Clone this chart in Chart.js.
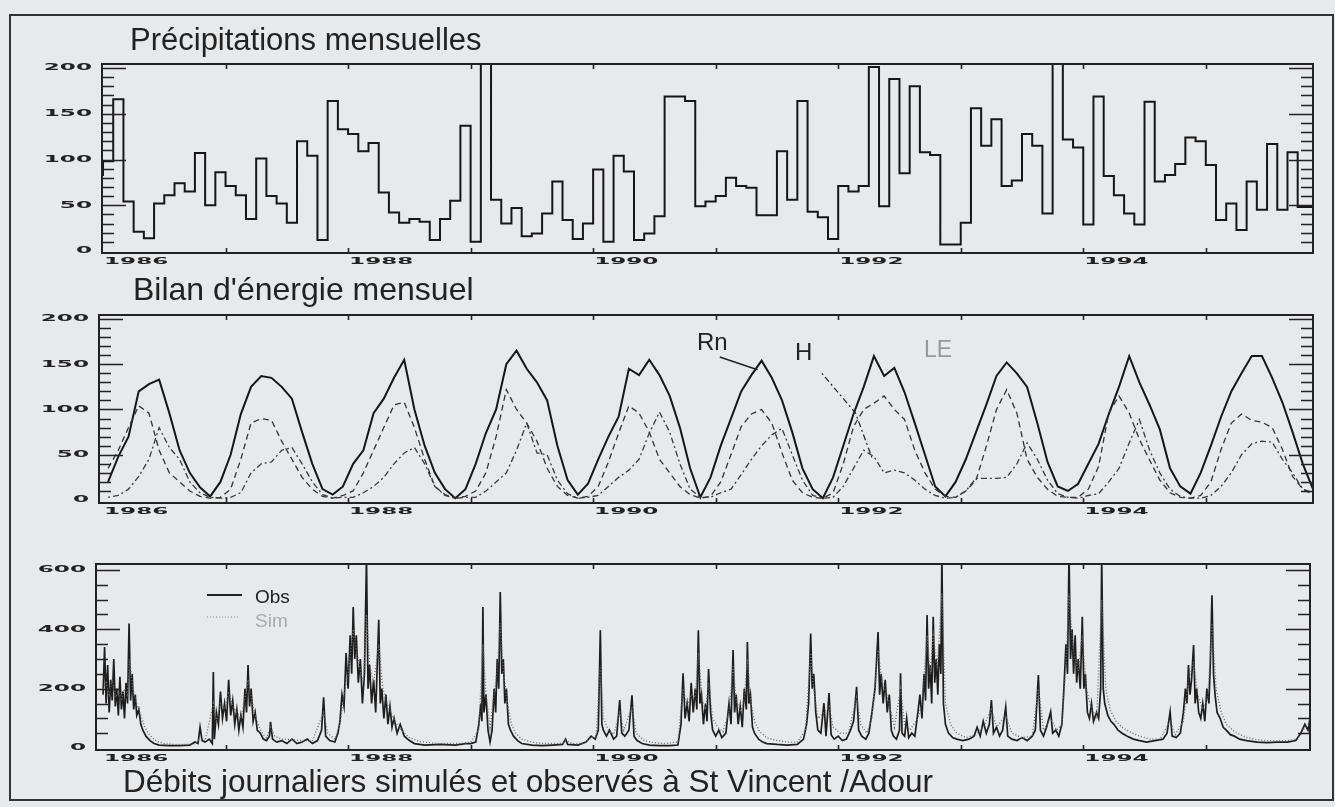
<!DOCTYPE html>
<html>
<head>
<meta charset="utf-8">
<script src="https://cdn.jsdelivr.net/npm/chart.js@4.4.1/dist/chart.umd.min.js"></script>
<style>
  body { margin: 0; background: #e8e9eb; }
  #page { position: relative; width: 1335px; height: 807px; overflow: hidden; font-family: "Liberation Sans", Arial, sans-serif; color: #222; }
  #frame { position: absolute; left: 9px; top: 14px; width: 1325px; height: 787px; border: 2px solid #333; box-sizing: border-box; }
  canvas { position: absolute; left: 0; top: 0; }
  .t { position: absolute; white-space: nowrap; line-height: 1; }
</style>
</head>
<body>
<div id="page">
  <div id="frame"></div>
  <canvas id="c1" width="1335" height="807"></canvas>
  <canvas id="c2" width="1335" height="807"></canvas>
  <canvas id="c3" width="1335" height="807"></canvas>
  <div class="t" style="left:130px;top:24px;font-size:31px">Précipitations mensuelles</div>
  <div class="t" style="left:133px;top:273px;font-size:32px">Bilan d'énergie mensuel</div>
  <div class="t" style="left:123px;top:766px;font-size:31.5px">Débits journaliers simulés et observés à St Vincent /Adour</div>
  <div class="t" style="left:697px;top:330px;font-size:24px">Rn</div>
  <div class="t" style="left:795px;top:340px;font-size:24px">H</div>
  <div class="t" style="left:924px;top:338px;font-size:23px;color:#999">LE</div>
  <div class="t" style="left:255px;top:587px;font-size:19px">Obs</div>
  <div class="t" style="left:255px;top:611px;font-size:19px;color:#aaa">Sim</div>
</div>
<script>
// months counted from January 1986
const years = ['1986', '1988', '1990', '1992', '1994'];
const yearTicks = [0, 24, 48, 72, 96];
const energyTicks = [0, 50, 100, 150, 200];
const flowTicks = [0, 200, 400, 600];

// monthly precipitation (mm)
const precip = [
  82, 98, 166, 54, 21, 14, 52, 61, 74, 65, 107, 50,
  86, 71, 61, 35, 101, 60, 52, 31, 120, 104, 12, 164,
  133, 128, 109, 118, 64, 42, 31, 35, 32, 12, 35, 55,
  137, 10, 260, 56, 30, 47, 16, 19, 41, 76, 34, 13,
  30, 89, 10, 104, 87, 12, 19, 38, 169, 169, 164, 49,
  54, 60, 80, 71, 69, 39, 39, 109, 56, 164, 43, 37,
  13, 71, 65, 71, 201, 49, 188, 85, 180, 108, 105, 7,
  7, 31, 156, 115, 144, 71, 77, 128, 115, 41, 215, 122,
  113, 29, 169, 82, 61, 41, 29, 163, 76, 83, 95, 124,
  120, 94, 34, 52, 23, 76, 45, 117, 45, 108, 48
];

// monthly energy balance (W/m2)
const rn = [
  20, 48, 70, 120, 128, 133, 96, 55, 30, 14, 4, 20,
  50, 95, 125, 137, 135, 125, 112, 75, 40, 12, 6, 15,
  40, 55, 96, 112, 135, 155, 100, 60, 30, 12, 2, 12,
  40, 74, 100, 150, 165, 145, 130, 110, 60, 22, 6, 18,
  45, 70, 92, 145, 138, 155, 138, 115, 80, 35, 3, 25,
  60, 90, 120, 138, 154, 135, 110, 75, 35, 12, 2, 25,
  60, 95, 125, 159, 137, 146, 119, 85, 50, 15, 4, 20,
  45, 75, 105, 137, 152, 140, 125, 85, 42, 15, 10, 18,
  40, 62, 95, 125, 159, 130, 105, 78, 35, 15, 7, 30,
  60, 92, 120, 140, 159, 159, 135, 108, 75, 40, 12
];
const le = [
  35, 55, 80, 104, 96, 55, 30, 20, 10, 4, 2, 3,
  12, 45, 85, 90, 88, 65, 45, 25, 12, 4, 2, 5,
  10, 30, 55, 80, 105, 108, 80, 45, 15, 6, 2, 4,
  10, 30, 70, 122, 100, 85, 65, 35, 15, 5, 2, 4,
  15, 42, 74, 104, 96, 75, 45, 30, 15, 6, 2, 4,
  20, 50, 81, 95, 100, 85, 52, 22, 8, 3, 2, 8,
  40, 81, 100, 107, 115, 100, 89, 55, 30, 12, 4, 3,
  10, 22, 59, 100, 122, 96, 45, 25, 12, 4, 3, 3,
  12, 37, 96, 115, 96, 67, 44, 22, 8, 3, 2, 5,
  20, 56, 85, 95, 88, 86, 80, 56, 26, 12, 6
];
const hs = [
  3, 5, 12, 26, 45, 80, 58, 45, 20, 8, 3, 2,
  3, 8, 30, 40, 42, 55, 58, 40, 20, 6, 2, 3,
  3, 8, 15, 25, 40, 52, 58, 40, 15, 5, 2, 3,
  3, 10, 20, 30, 55, 85, 52, 50, 22, 7, 2, 3,
  5, 15, 25, 33, 45, 74, 97, 75, 40, 12, 3, 3,
  8, 12, 28, 45, 60, 72, 79, 50, 22, 5, 2, 3,
  15, 35, 55, 48, 30, 33, 30, 22, 12, 5, 2, 3,
  10, 24, 24, 24, 25, 40, 63, 45, 22, 7, 3, 2,
  5, 7, 20, 35, 63, 89, 55, 30, 12, 4, 2, 2,
  5, 15, 30, 50, 62, 65, 64, 45, 30, 12, 8
];

// daily discharge, sampled [month, m3/s]
const obsFlow = [
  [0,180],[0.15,340],[0.3,150],[0.45,280],[0.6,120],[0.75,230],[0.9,160],[1.05,300],[1.2,140],[1.35,200],
  [1.5,110],[1.65,240],[1.8,130],[1.95,190],[2.1,100],[2.25,220],[2.4,150],[2.55,420],[2.7,160],[2.85,250],
  [3.0,130],[3.15,180],[3.3,110],[3.5,130],[3.7,80],[3.9,60],[4.2,40],[4.6,25],[5.0,15],[5.5,10],
  [6.5,8],[7.5,8],[8.5,10],[9.0,20],[9.3,15],[9.5,70],[9.7,25],[10.0,20],[10.4,30],[10.7,15],
  [10.8,256],[10.9,30],[11.1,120],[11.3,80],[11.5,190],[11.7,100],[11.9,150],[12.1,90],[12.3,230],[12.5,110],
  [12.7,160],[12.9,80],[13.1,130],[13.3,60],[13.5,110],[13.7,70],[13.9,200],[14.05,120],[14.2,280],[14.35,140],
  [14.5,200],[14.7,90],[14.9,120],[15.1,60],[15.4,50],[15.7,30],[16.0,25],[16.3,40],[16.4,88],[16.6,30],
  [17.0,20],[17.5,25],[18.0,15],[18.5,30],[19.0,15],[19.5,20],[20.0,30],[20.5,15],[21.0,25],[21.4,60],
  [21.6,171],[21.8,40],[22.2,25],[22.7,20],[23.0,50],[23.2,90],[23.4,180],[23.6,140],[23.8,320],[24.0,200],
  [24.2,380],[24.35,250],[24.5,475],[24.65,300],[24.8,380],[25.0,220],[25.2,300],[25.4,150],[25.6,250],[25.8,640],
  [25.95,200],[26.1,280],[26.3,150],[26.5,230],[26.7,120],[27.0,432],[27.15,150],[27.3,200],[27.5,100],[27.7,180],
  [27.9,80],[28.1,140],[28.3,70],[28.5,100],[28.8,50],[29.1,80],[29.5,40],[30.0,25],[30.5,15],[31.5,10],
  [33,12],[34.5,10],[35.5,15],[36.0,15],[36.5,20],[36.8,80],[37.0,150],[37.1,90],[37.2,475],[37.3,120],
  [37.5,180],[37.7,60],[37.9,20],[38.1,60],[38.3,200],[38.45,120],[38.6,300],[38.75,200],[38.9,526],[39.05,250],
  [39.2,300],[39.35,150],[39.5,200],[39.7,80],[39.9,60],[40.2,40],[40.6,25],[41.0,15],[42,10],[43,8],
  [44,10],[45,12],[45.3,30],[45.5,12],[46.5,10],[47.3,20],[47.8,40],[48.2,30],[48.5,60],[48.7,397],
  [48.85,80],[49.0,60],[49.3,40],[49.6,60],[50.0,30],[50.3,40],[50.6,162],[50.8,50],[51.1,40],[51.5,60],
  [51.8,178],[52.0,40],[52.3,25],[52.8,15],[53.5,10],[54.5,8],[55.5,8],[56.3,10],[56.6,80],[56.8,252],
  [57.0,100],[57.2,150],[57.4,90],[57.6,220],[57.8,120],[58.0,200],[58.15,130],[58.3,397],[58.45,150],[58.6,180],
  [58.8,80],[59.0,150],[59.15,90],[59.3,266],[59.5,120],[59.7,60],[60.0,40],[60.3,60],[60.6,35],[61.0,50],
  [61.3,150],[61.5,80],[61.7,330],[61.85,120],[62.0,180],[62.2,80],[62.4,140],[62.6,70],[62.8,200],[63.0,130],
  [63.1,357],[63.25,150],[63.4,180],[63.6,70],[63.8,50],[64.2,30],[64.6,20],[65.0,15],[66,12],[67,10],
  [68,12],[68.6,30],[68.9,80],[69.1,150],[69.3,386],[69.45,200],[69.6,250],[69.8,120],[70.0,60],[70.3,50],
  [70.6,151],[70.8,40],[71.1,185],[71.3,45],[71.6,30],[72.0,40],[72.4,25],[72.8,30],[73.2,60],[73.5,90],
  [73.8,206],[74.0,60],[74.3,40],[74.7,30],[75.0,50],[75.3,120],[75.6,200],[75.9,391],[76.05,180],[76.2,250],
  [76.4,150],[76.6,230],[76.8,120],[77.0,180],[77.2,60],[77.4,40],[77.7,30],[78.0,60],[78.1,252],[78.25,50],
  [78.5,40],[78.7,100],[78.9,35],[79.2,50],[79.5,40],[79.8,120],[80.0,180],[80.2,100],[80.4,250],[80.55,160],
  [80.7,448],[80.85,200],[81.0,280],[81.15,150],[81.3,442],[81.45,220],[81.6,300],[81.75,180],[81.9,350],[82.05,250],
  [82.15,650],[82.3,150],[82.5,80],[82.8,50],[83.2,35],[83.6,30],[84.2,25],[84.8,30],[85.3,40],[85.6,70],
  [85.9,40],[86.2,90],[86.5,50],[86.8,80],[87.0,162],[87.2,50],[87.5,70],[87.8,40],[88.1,60],[88.4,138],
  [88.6,40],[89.0,30],[89.5,25],[90.0,35],[90.5,25],[91.0,40],[91.3,60],[91.6,246],[91.8,60],[92.1,40],
  [92.4,70],[92.8,122],[93.0,50],[93.3,60],[93.6,40],[93.9,80],[94.1,200],[94.3,350],[94.45,250],[94.6,650],
  [94.75,300],[94.9,400],[95.05,250],[95.2,380],[95.35,220],[95.5,300],[95.7,200],[95.9,442],[96.05,200],[96.2,250],
  [96.4,120],[96.6,100],[96.8,150],[97.0,90],[97.3,120],[97.5,100],[97.7,200],[97.8,650],[97.95,200],[98.1,150],
  [98.4,110],[98.7,90],[99.0,80],[99.4,60],[99.8,50],[100.3,40],[100.9,30],[101.5,25],[102.2,20],[103,25],
  [103.8,30],[104.2,50],[104.5,122],[104.7,40],[105.1,35],[105.5,50],[105.8,120],[106.0,200],[106.15,150],[106.3,280],
  [106.45,180],[106.6,230],[106.8,347],[106.95,150],[107.1,200],[107.3,120],[107.5,100],[107.7,150],[107.9,90],[108.1,200],
  [108.3,150],[108.45,300],[108.6,515],[108.75,250],[108.9,180],[109.1,120],[109.4,100],[109.7,70],[110.0,60],[110.4,45],
  [110.8,40],[111.3,30],[112,25],[113,20],[114,18],[115,20],[116,20],[116.8,25],[117.3,50],[117.7,80],
  [118.0,60],[118.2,100]
];
const simFlow = [
  [0,200],[0.3,220],[0.6,180],[0.9,230],[1.2,170],[1.5,190],[1.8,160],[2.1,200],[2.4,180],[2.6,300],
  [2.9,200],[3.2,160],[3.5,130],[3.8,100],[4.1,70],[4.4,50],[4.8,35],[5.3,22],[6,15],[7,12],
  [8,12],[9,15],[9.5,30],[10,25],[10.8,150],[11.1,90],[11.5,150],[11.9,130],[12.3,190],[12.7,140],
  [13.1,120],[13.5,100],[13.9,170],[14.2,230],[14.5,170],[14.9,110],[15.3,70],[15.7,45],[16.0,35],[16.4,70],
  [16.8,40],[17.5,30],[18.5,28],[19.5,25],[20.5,25],[21.6,120],[22,50],[22.7,30],[23.2,80],[23.6,180],
  [24.0,250],[24.5,400],[24.8,330],[25.2,260],[25.5,220],[25.8,450],[26.1,280],[26.5,220],[27.0,350],[27.4,200],
  [27.8,150],[28.2,120],[28.6,90],[29.0,70],[29.5,50],[30,35],[31,22],[32,18],[33,15],[34,15],
  [35,15],[36,20],[36.8,60],[37.2,350],[37.5,180],[37.9,70],[38.3,180],[38.6,260],[38.9,420],[39.2,260],
  [39.6,150],[40.0,80],[40.4,50],[41,30],[42,20],[43,15],[44,15],[45,15],[45.3,25],[46,15],
  [47,15],[47.8,35],[48.3,40],[48.7,280],[49.0,100],[49.5,60],[50.0,45],[50.6,120],[51.0,60],[51.8,140],
  [52.2,50],[53,25],[54,18],[55,15],[56.3,20],[56.8,200],[57.2,140],[57.6,180],[58.0,170],[58.3,320],
  [58.7,160],[59.0,130],[59.3,220],[59.7,100],[60.2,70],[60.7,55],[61.3,120],[61.7,280],[62.0,160],[62.5,120],
  [62.8,170],[63.1,300],[63.4,160],[63.8,90],[64.3,55],[65,35],[66,25],[67,20],[68,20],[68.8,60],
  [69.3,320],[69.6,200],[70.0,100],[70.6,120],[71.1,140],[71.5,70],[72.2,50],[73.0,50],[73.8,170],[74.2,80],
  [74.8,50],[75.3,100],[75.9,330],[76.3,220],[76.7,190],[77.1,130],[77.5,70],[78.1,200],[78.5,80],[79.0,60],
  [79.8,100],[80.2,150],[80.7,380],[81.0,250],[81.3,380],[81.7,270],[82.15,520],[82.5,150],[83.0,80],[83.6,50],
  [84.5,35],[85.5,45],[86.2,70],[87.0,130],[87.5,70],[88.4,110],[89,50],[90,35],[91,40],[91.6,200],
  [92.1,60],[92.8,100],[93.4,60],[93.9,80],[94.3,280],[94.6,520],[95.0,330],[95.5,260],[95.9,380],[96.3,200],
  [96.8,130],[97.3,100],[97.8,500],[98.2,200],[98.6,130],[99.2,90],[99.8,70],[100.5,55],[101.5,40],[102.5,30],
  [103.5,30],[104.5,90],[105,45],[105.8,90],[106.3,230],[106.8,290],[107.2,180],[107.7,130],[108.2,170],[108.6,420],
  [109.0,200],[109.5,120],[110.0,80],[110.8,55],[112,35],[113,28],[114,25],[115,25],[116,25],[117,30],
  [117.7,70],[118.2,80]
];

// leader lines of the Rn and H labels, in [month, W/m2]
const rnLeader = [[60.4, 158], [64.1, 144]];
const hLeader = [[70.4, 140], [73.7, 96], [75.3, 47]];

const INK = '#222';

function squat(ctx, text, x, y, align) {
  // the scan uses a flat, very wide digit font
  ctx.save();
  ctx.translate(x, y);
  ctx.scale(2.1, 0.8);
  ctx.textAlign = align;
  ctx.textBaseline = 'middle';
  ctx.fillText(text, 0, 0);
  ctx.restore();
}

function panelPlugin(cfg) {
  return {
    id: 'panel',
    afterDraw(chart) {
      const { ctx, chartArea: a } = chart;
      const x = chart.scales.x, y = chart.scales.y;
      ctx.save();
      ctx.strokeStyle = INK;
      ctx.lineWidth = 2;
      ctx.strokeRect(a.left, a.top, a.right - a.left, a.bottom - a.top);

      ctx.lineWidth = 1.6;
      ctx.beginPath();
      for (let v = cfg.minor; v < y.max; v += cfg.minor) {
        const py = Math.round(y.getPixelForValue(v)) + 0.5;
        const len = v % cfg.major === 0 ? 24 : 12;
        ctx.moveTo(a.left, py); ctx.lineTo(a.left + len, py);
        ctx.moveTo(a.right, py); ctx.lineTo(a.right - len, py);
      }
      for (let m = 12; m < x.max; m += 12) {
        const px = Math.round(x.getPixelForValue(m)) + 0.5;
        ctx.moveTo(px, a.top); ctx.lineTo(px, a.top + 5);
        ctx.moveTo(px, a.bottom); ctx.lineTo(px, a.bottom - 5);
      }
      ctx.stroke();

      ctx.fillStyle = INK;
      ctx.font = 'bold 11px "DejaVu Sans"';
      cfg.yLabels.forEach(v => squat(ctx, String(v), a.left - 10, y.getPixelForValue(v), 'right'));
      yearTicks.forEach((m, i) => squat(ctx, years[i], x.getPixelForValue(m) + 1, a.bottom + 9, 'left'));

      if (cfg.extra) cfg.extra(chart, ctx, a, x, y);
      ctx.restore();
    }
  };
}

function polyline(ctx, pts, x, y) {
  ctx.beginPath();
  pts.forEach((p, i) => {
    const px = x.getPixelForValue(p[0]), py = y.getPixelForValue(p[1]);
    if (i === 0) ctx.moveTo(px, py); else ctx.lineTo(px, py);
  });
  ctx.stroke();
}

function makePanel(id, padding, xr, yr, datasets, plugin) {
  return new Chart(document.getElementById(id), {
    type: 'line',
    data: { datasets },
    options: {
      responsive: false,
      animation: false,
      devicePixelRatio: 1,
      layout: { padding },
      plugins: { legend: { display: false }, tooltip: { enabled: false } },
      elements: { point: { radius: 0 }, line: { tension: 0 } },
      scales: {
        x: { type: 'linear', min: xr[0], max: xr[1], display: false },
        y: { type: 'linear', min: yr[0], max: yr[1], display: false }
      }
    },
    plugins: [plugin]
  });
}

const monthly = (arr, off) => arr.map((v, i) => ({ x: i + off, y: v }));

// precipitation steps
const precipPts = monthly(precip, 0);
precipPts.push({ x: precip.length, y: precip[precip.length - 1] });
makePanel('c1', { left: 102, right: 22, top: 64, bottom: 554 }, [-0.1, 118.5], [-2.2, 204.4], [{
  data: precipPts, stepped: 'after', borderColor: '#161616', borderWidth: 2
}], panelPlugin({ minor: 10, major: 50, yLabels: energyTicks }));

// energy balance
makePanel('c2', { left: 99, right: 22, top: 315, bottom: 304 }, [-0.39, 118.5], [-3.3, 204.4], [
  { data: monthly(hs, 0.5), borderColor: '#3a3a3a', borderWidth: 1.3, borderDash: [2, 3, 6, 3] },
  { data: monthly(le, 0.5), borderColor: '#333', borderWidth: 1.3, borderDash: [6, 4] },
  { data: monthly(rn, 0.5), borderColor: '#161616', borderWidth: 2 }
], panelPlugin({
  minor: 10, major: 50, yLabels: energyTicks,
  extra(chart, ctx, a, x, y) {
    ctx.strokeStyle = '#222';
    ctx.lineWidth = 1.5;
    polyline(ctx, rnLeader, x, y);
    ctx.lineWidth = 1.2;
    ctx.setLineDash([2, 3, 6, 3]);
    polyline(ctx, hLeader, x, y);
    ctx.setLineDash([]);
  }
}));

// discharge
makePanel('c3', { left: 96, right: 25, top: 564, bottom: 57 }, [-0.69, 118.2], [-6.7, 620.2], [
  { data: simFlow.map(p => ({ x: p[0], y: p[1] })), borderColor: '#6a6a6a', borderWidth: 1.4, borderDash: [1, 2] },
  { data: obsFlow.map(p => ({ x: p[0], y: p[1] })), borderColor: '#1e1e1e', borderWidth: 1.7 }
], panelPlugin({
  minor: 50, major: 200, yLabels: flowTicks,
  extra(chart, ctx, a) {
    ctx.strokeStyle = '#222';
    ctx.lineWidth = 2;
    ctx.beginPath();
    ctx.moveTo(a.left + 111, a.top + 31); ctx.lineTo(a.left + 146, a.top + 31);
    ctx.stroke();
    ctx.strokeStyle = '#888';
    ctx.lineWidth = 1.2;
    ctx.setLineDash([1, 2]);
    ctx.beginPath();
    ctx.moveTo(a.left + 111, a.top + 53); ctx.lineTo(a.left + 144, a.top + 53);
    ctx.stroke();
    ctx.setLineDash([]);
  }
}));
</script>
</body>
</html>
